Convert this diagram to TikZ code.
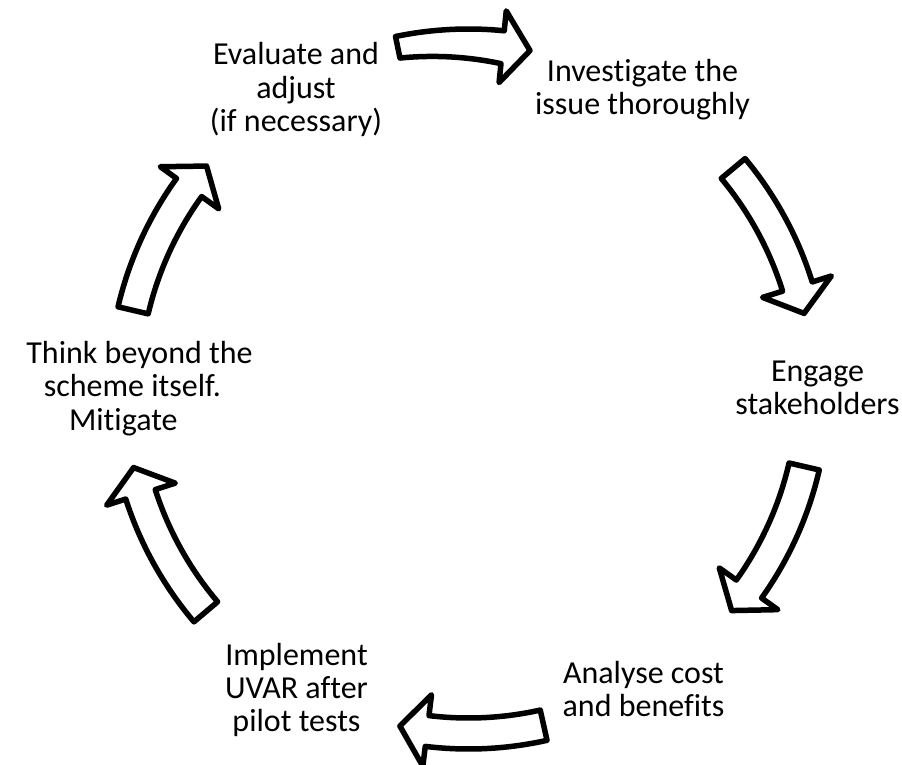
\documentclass[tikz,border=0pt]{standalone}
\usepackage{fontspec}
\setmainfont{Carlito}[Ligatures=NoCommon]
% #1 tail angle, #2 tip angle, #3 tail inner r, #4 tail outer r, #5 base inner r, #6 base outer r
\newcommand{\cycarrow}[6]{%
  \pgfmathsetmacro{\cab}{#2+4.6}%
  \draw[blockarrow] plot[domain=#1:\cab, samples=40] (\x:{#4+(#6-#4)*(#1-\x)/(#1-\cab)})
    -- (\cab:380) -- (#2:344) -- (\cab:308)
    -- plot[domain=\cab:#1, samples=40] (\x:{#5+(#3-#5)*(\x-\cab)/(#1-\cab)}) -- cycle;}
\begin{document}
\begin{tikzpicture}[x=1pt,y=1pt,
  lbl/.style={font=\fontsize{32}{33}\selectfont, inner sep=0pt, anchor=base, text=black},
  blockarrow/.style={draw=black, line width=5.5pt, line join=round, fill=white}]
\useasboundingbox[fill=white] (0,0) rectangle (902,-765);

\begin{scope}[shift={(468.5,-389)}]
  \cycarrow{101.7}{79.7}{338}{360}{327}{360}
  \cycarrow{39.8}{12.7}{329}{360}{329}{360}
  \cycarrow{-13.0}{-40.1}{329}{360}{329}{360}
  \cycarrow{-77.4}{-101.5}{329}{360}{329}{360}
  \cycarrow{-139.7}{-166.8}{329}{360}{329}{360}
  \cycarrow{166.8}{139.6}{329}{360}{329}{360}
\end{scope}

\node[lbl] (ev1) at (296,-65) {Evaluate and};
\node[lbl] (ev2) at (296,-98.3) {adjust};
\node[lbl] (ev3) at (296,-131.7) {(if necessary)};

\node[lbl] (in1) at (642.5,-81.7) {Investigate the};
\node[lbl] (in2) at (642.5,-115) {issue thoroughly};

\node[lbl] (en1) at (817.5,-381.7) {Engage};
\node[lbl] (en2) at (817.5,-414.5) {stakeholders};

\node[lbl] (an1) at (643.5,-683.3) {Analyse cost};
\node[lbl] (an2) at (643.5,-716) {and benefits};

\node[lbl] (im1) at (296.5,-665) {Implement};
\node[lbl] (im2) at (296.5,-698.3) {UVAR after};
\node[lbl] (im3) at (296.5,-731.7) {pilot tests};

\node[lbl] (th1) at (139.5,-363.3) {Think beyond the};
\node[lbl] (th2) at (132.3,-396.7) {scheme itself.};
\node[lbl] (th3) at (123.3,-430) {Mitigate};
\end{tikzpicture}
\end{document}
